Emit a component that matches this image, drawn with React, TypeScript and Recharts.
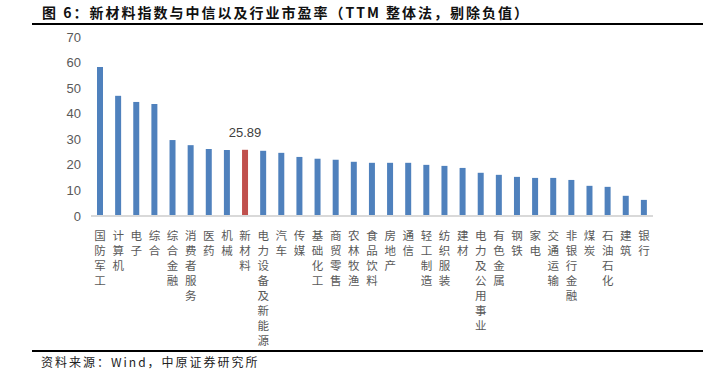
import { Bar, BarChart, Cell, LabelList, XAxis, YAxis } from "recharts";

const industries = [
  "国防军工", "计算机", "电子", "综合", "综合金融", "消费者服务", "医药", "机械",
  "新材料", "电力设备及新能源", "汽车", "传媒", "基础化工", "商贸零售", "农林牧渔",
  "食品饮料", "房地产", "通信", "轻工制造", "纺织服装", "建材", "电力及公用事业",
  "有色金属", "钢铁", "家电", "交通运输", "非银行金融", "煤炭", "石油石化", "建筑", "银行",
];

const peValues = [
  58.3, 47.0, 44.6, 43.8, 29.7, 27.7, 26.2, 25.8,
  25.89, 25.5, 24.7, 23.1, 22.4, 22.0, 21.2,
  20.8, 20.8, 20.8, 20.0, 19.6, 18.8, 16.9,
  16.1, 15.3, 14.9, 14.9, 14.1, 11.8, 11.4, 7.9, 6.3,
];

const yTicks = [0, 10, 20, 30, 40, 50, 60, 70];

const highlight = "新材料";

const data = industries.map((name, i) => ({ name, pe: peValues[i] }));

const cjk = "'Noto Sans CJK SC', sans-serif";

// vertical category labels, one glyph per line
function VerticalTick(props: any) {
  const { x, y, payload } = props;
  const chars = String(payload.value).split("");
  return (
    <g>
      {chars.map((c, i) => (
        <text key={i} x={x} y={y + 16 + i * 15} textAnchor="middle" fill="#595959" fontSize={11.5} fontFamily={cjk}>
          {c}
        </text>
      ))}
    </g>
  );
}

function ValueLabel(props: any) {
  const { x, y, width, value, index } = props;
  if (industries[index] !== highlight) return null;
  return (
    <text x={x + width / 2} y={y - 13} textAnchor="middle" fill="#404040" fontSize={13} fontFamily="'Liberation Sans', Arial, sans-serif">
      {value}
    </text>
  );
}

export default function App() {
  return (
    <div style={{ position: "absolute", left: 0, top: 0, width: 719, height: 373, background: "#fff", fontFamily: cjk }}>
      <div style={{ position: "absolute", left: 42, top: 2, fontSize: 14, fontWeight: 700, color: "#111", letterSpacing: 2, lineHeight: "20px", whiteSpace: "nowrap" }}>
        图 6：新材料指数与中信以及行业市盈率（TTM 整体法，剔除负值）
      </div>
      <div style={{ position: "absolute", left: 32, top: 23, width: 671, height: 2, background: "#000" }} />

      <div style={{ position: "absolute", left: 0, top: 0 }}>
        <BarChart width={719} height={373} data={data} margin={{ top: 37, right: 66, left: 0, bottom: 0 }}>
          <YAxis
            width={91}
            domain={[0, 70]}
            ticks={yTicks}
            interval={0}
            tickLine={false}
            axisLine={false}
            tickMargin={4}
            tick={{ fill: "#595959", fontSize: 13, fontFamily: "'Liberation Sans', Arial, sans-serif" }}
          />
          <XAxis
            dataKey="name"
            height={157}
            interval={0}
            tickLine={false}
            axisLine={{ stroke: "#d9d9d9", strokeWidth: 2 }}
            tick={<VerticalTick />}
          />
          <Bar dataKey="pe" barSize={6} isAnimationActive={false}>
            {data.map((d) => (
              <Cell key={d.name} fill={d.name === highlight ? "#c0504d" : "#4f81bd"} />
            ))}
            <LabelList dataKey="pe" content={<ValueLabel />} />
          </Bar>
        </BarChart>
      </div>

      <div style={{ position: "absolute", left: 32, top: 350, width: 671, height: 2, background: "#000" }} />
      <div style={{ position: "absolute", left: 41, top: 353, fontSize: 12, color: "#222", letterSpacing: 2, lineHeight: "18px", whiteSpace: "nowrap" }}>
        资料来源：Wind，中原证券研究所
      </div>
    </div>
  );
}
